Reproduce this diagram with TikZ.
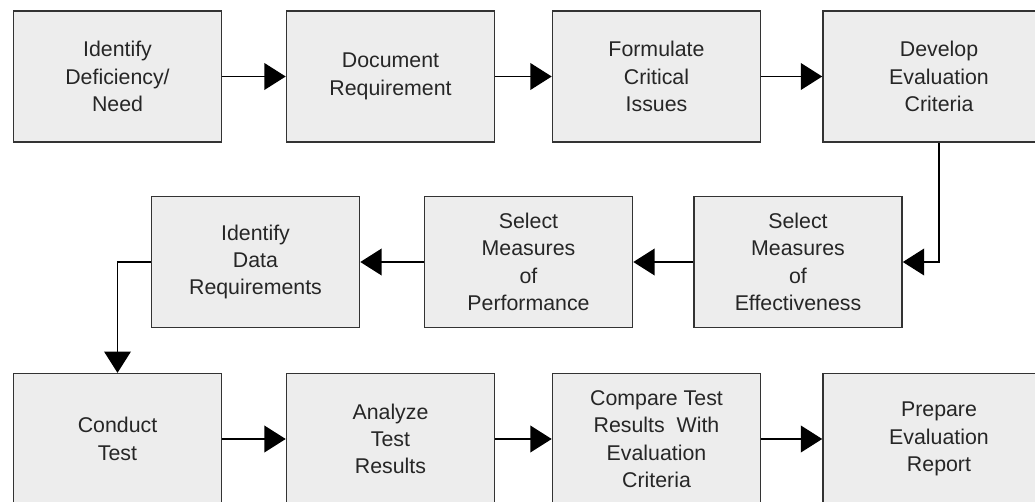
\documentclass[tikz,border=0pt]{standalone}
\usepackage{fontspec}
\setmainfont{Liberation Sans}
\usetikzlibrary{arrows.meta}

\begin{document}
\begin{tikzpicture}[x=0.75pt,y=-0.75pt,
  box/.style={draw=black!80,line width=1.2pt,fill=black!7,text=black!85,minimum width=156pt,minimum height=98pt,inner sep=0pt,align=center,font=\fontsize{16}{20.5}\selectfont},
  wide/.style={minimum width=174pt},
  flow/.style={line width=1.1pt,-{Triangle[length=16pt,width=20pt]}}]
\useasboundingbox (0,0) rectangle (1035,502);
\fill [white] (0,0) rectangle (1035,502);
% first row
\node [box] (need) at (117.5,76.5) {Identify\\Deficiency/\\Need};
\node [box] (docreq) at (390.5,76.5) {Document\\Requirement};
\node [box] (issues) at (656.5,76.5) {Formulate\\Critical\\Issues};
\node [box,wide] (criteria) at (939,76.5) {Develop\\Evaluation\\Criteria};
% second row
\node [box] (moe) at (798,262) {Select\\Measures\\of\\Effectiveness};
\node [box] (mop) at (528.5,262) {Select\\Measures\\of\\Performance};
\node [box] (datareq) at (255.5,262) {Identify\\Data\\Requirements};
% third row
\node [box] (conduct) at (117.5,439) {Conduct\\Test};
\node [box] (analyze) at (390.5,439) {Analyze\\Test\\Results};
\node [box] (compare) at (656.5,439) {Compare Test\\Results~ With\\Evaluation\\Criteria};
\node [box,wide] (report) at (939,439) {Prepare\\Evaluation\\Report};
\draw [flow] (need) -- (docreq);
\draw [flow] (docreq) -- (issues);
\draw [flow] (issues) -- (criteria);
\draw [flow] (criteria.south) |- (moe.east);
\draw [flow] (moe) -- (mop);
\draw [flow] (mop) -- (datareq);
\draw [flow] (datareq.west) -| (conduct.north);
\draw [flow] (conduct) -- (analyze);
\draw [flow] (analyze) -- (compare);
\draw [flow] (compare) -- (report);
\end{tikzpicture}
\end{document}
